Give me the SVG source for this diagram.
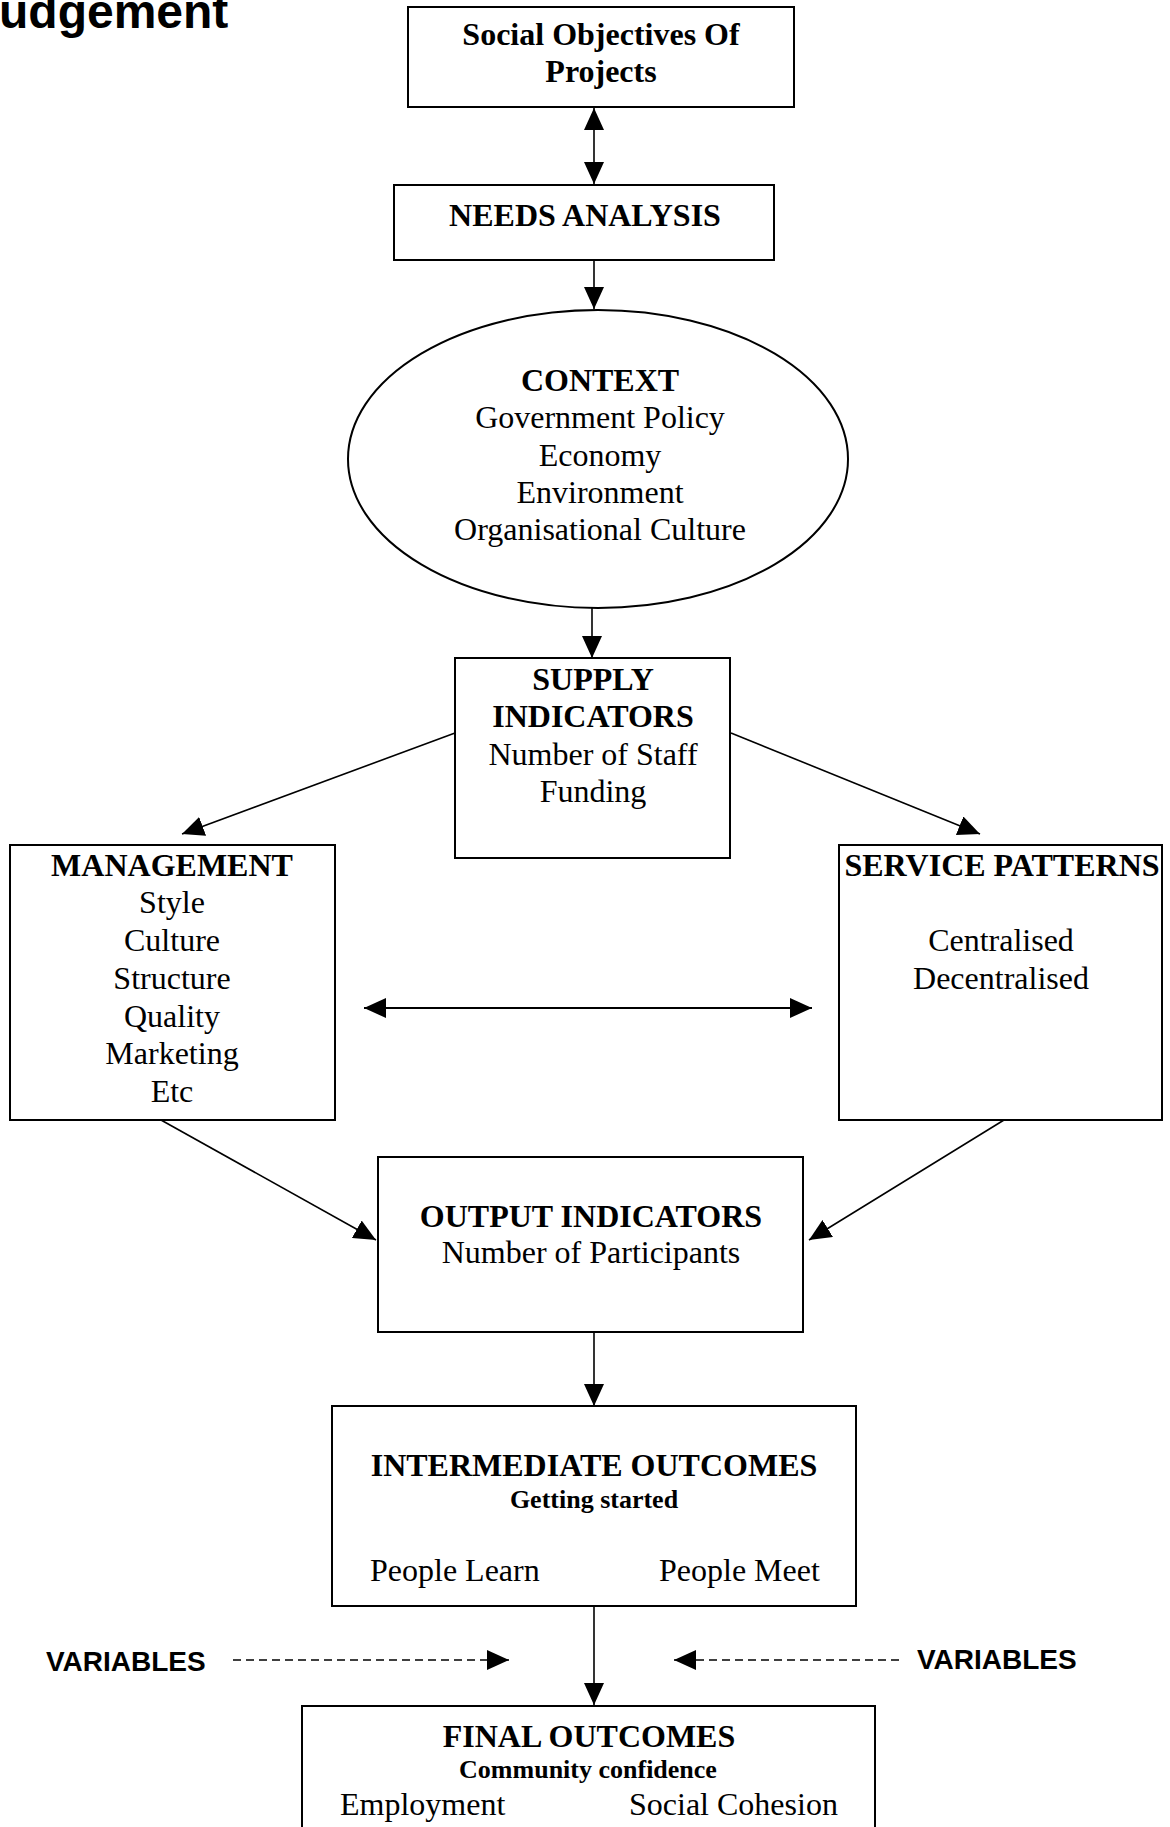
<svg xmlns="http://www.w3.org/2000/svg" width="1170" height="1827" viewBox="0 0 1170 1827">
<defs>
<marker id="ah" viewBox="0 0 22 20" refX="22" refY="10" markerWidth="22" markerHeight="20" markerUnits="userSpaceOnUse" orient="auto-start-reverse">
<path d="M0,0 L22,10 L0,20 z" fill="#000"/>
</marker>
<style>
.box{fill:#fff;stroke:#000;stroke-width:2}
.con{stroke:#000;stroke-width:1.6;fill:none}
.dash{stroke:#000;stroke-width:1.6;fill:none;stroke-dasharray:8 5}
text{font-family:"Liberation Serif","Times New Roman",serif;font-size:32px;fill:#000}
.c{text-anchor:middle}
.b{font-weight:bold}
.s{font-size:26px;font-weight:bold}
.sans{font-family:"Liberation Sans",Arial,sans-serif;font-weight:bold}
</style>
</defs>
<rect width="1170" height="1827" fill="#fff"/>
<text class="sans" x="-1" y="28" style="font-size:48px">udgement</text>

<g id="connectors">
<line class="con" x1="594" y1="108" x2="594" y2="184" marker-start="url(#ah)" marker-end="url(#ah)"/>
<line class="con" x1="594" y1="260" x2="594" y2="309" marker-end="url(#ah)"/>
<line class="con" x1="592" y1="608" x2="592" y2="658" marker-end="url(#ah)"/>
<line class="con" x1="455" y1="733" x2="182" y2="834" marker-end="url(#ah)"/>
<line class="con" x1="731" y1="733" x2="980" y2="834" marker-end="url(#ah)"/>
<line class="con" x1="364" y1="1008" x2="812" y2="1008" marker-start="url(#ah)" marker-end="url(#ah)" style="stroke-width:2.2"/>
<line class="con" x1="161" y1="1120" x2="376" y2="1240" marker-end="url(#ah)"/>
<line class="con" x1="1004" y1="1120" x2="809" y2="1240" marker-end="url(#ah)"/>
<line class="con" x1="594" y1="1332" x2="594" y2="1406" marker-end="url(#ah)"/>
<line class="con" x1="594" y1="1606" x2="594" y2="1705" marker-end="url(#ah)"/>
<line class="dash" x1="233" y1="1660" x2="509" y2="1660" marker-end="url(#ah)"/>
<line class="dash" x1="899" y1="1660" x2="674" y2="1660" marker-end="url(#ah)"/>
</g>

<g id="social-objectives">
<rect class="box" x="408" y="7" width="386" height="100"/>
<text class="c b" x="601" y="45">Social Objectives Of</text>
<text class="c b" x="601" y="82">Projects</text>
</g>

<g id="needs-analysis">
<rect class="box" x="394" y="185" width="380" height="75"/>
<text class="c b" x="585" y="226">NEEDS ANALYSIS</text>
</g>

<g id="context">
<ellipse cx="598" cy="459" rx="250" ry="149" fill="#fff" stroke="#000" stroke-width="2"/>
<text class="c b" x="600" y="391">CONTEXT</text>
<text class="c" x="600" y="428">Government Policy</text>
<text class="c" x="600" y="466">Economy</text>
<text class="c" x="600" y="503">Environment</text>
<text class="c" x="600" y="540">Organisational Culture</text>
</g>

<g id="supply-indicators">
<rect class="box" x="455" y="658" width="275" height="200"/>
<text class="c b" x="593" y="690">SUPPLY</text>
<text class="c b" x="593" y="727">INDICATORS</text>
<text class="c" x="593" y="765">Number of Staff</text>
<text class="c" x="593" y="802">Funding</text>
</g>

<g id="management">
<rect class="box" x="10" y="845" width="325" height="275"/>
<text class="c b" x="172" y="876">MANAGEMENT</text>
<text class="c" x="172" y="913">Style</text>
<text class="c" x="172" y="951">Culture</text>
<text class="c" x="172" y="989">Structure</text>
<text class="c" x="172" y="1027">Quality</text>
<text class="c" x="172" y="1064">Marketing</text>
<text class="c" x="172" y="1102">Etc</text>
</g>

<g id="service-patterns">
<rect class="box" x="839" y="845" width="323" height="275"/>
<text class="c b" x="1002" y="876">SERVICE PATTERNS</text>
<text class="c" x="1001" y="951">Centralised</text>
<text class="c" x="1001" y="989">Decentralised</text>
</g>

<g id="output-indicators">
<rect class="box" x="378" y="1157" width="425" height="175"/>
<text class="c b" x="591" y="1227">OUTPUT INDICATORS</text>
<text class="c" x="591" y="1263">Number of Participants</text>
</g>

<g id="intermediate-outcomes">
<rect class="box" x="332" y="1406" width="524" height="200"/>
<text class="c b" x="594" y="1476">INTERMEDIATE OUTCOMES</text>
<text class="c s" x="594" y="1508">Getting started</text>
<text x="370" y="1581">People Learn</text>
<text x="659" y="1581">People Meet</text>
</g>

<g id="variables-left">
<text class="sans" x="46" y="1671" style="font-size:28px">VARIABLES</text>
</g>
<g id="variables-right">
<text class="sans" x="917" y="1669" style="font-size:28px">VARIABLES</text>
</g>

<g id="final-outcomes">
<rect class="box" x="302" y="1706" width="573" height="200"/>
<text class="c b" x="589" y="1747">FINAL OUTCOMES</text>
<text class="c s" x="588" y="1778">Community confidence</text>
<text x="340" y="1815">Employment</text>
<text x="629" y="1815">Social Cohesion</text>
</g>
</svg>
